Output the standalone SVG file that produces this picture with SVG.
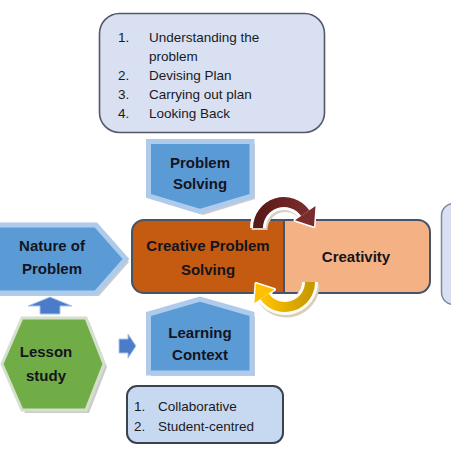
<svg xmlns="http://www.w3.org/2000/svg" width="451" height="451" viewBox="0 0 451 451">
<defs>
<style>
.t{font-family:"Liberation Sans",Arial,sans-serif;font-size:13.5px;fill:#1a1a22}
.b{font-family:"Liberation Sans",Arial,sans-serif;font-size:15px;font-weight:bold;fill:#14141e;text-anchor:middle}
.note{fill:#d8e0f1;stroke:#55586a;stroke-width:1.6}
.penta{fill:#5b9bd5;stroke:#aecbeb;stroke-width:5;stroke-linejoin:miter}
.shadow{fill:#cccccc}
.blue{fill:#4a7cc9;stroke:#a9c4e8;stroke-width:1}
.main{stroke:#44546a;stroke-width:2}
</style>
<linearGradient id="gold" x1="0" y1="0" x2="1" y2="0">
<stop offset="0" stop-color="#ffc000"/><stop offset="1" stop-color="#c99a00"/>
</linearGradient>
<linearGradient id="brown" x1="0" y1="0" x2="1" y2="0">
<stop offset="0" stop-color="#5a1818"/><stop offset="1" stop-color="#7a2c2c"/>
</linearGradient>
</defs>
<rect width="451" height="451" fill="#ffffff"/>

<g id="steps">
<rect class="note" x="99.5" y="13.5" width="225" height="119" rx="20"/>
<text class="t" x="118" y="42">1.</text><text class="t" x="149" y="42">Understanding the</text>
<text class="t" x="149" y="61">problem</text>
<text class="t" x="118" y="80">2.</text><text class="t" x="149" y="80">Devising Plan</text>
<text class="t" x="118" y="99">3.</text><text class="t" x="149" y="99">Carrying out plan</text>
<text class="t" x="118" y="118">4.</text><text class="t" x="149" y="118">Looking Back</text>
</g>

<g id="problem-solving">
<polygon class="shadow" points="151,144 255,144 255,199 203,215 151,199"/>
<polygon class="penta" points="148.5,141.5 252,141.5 252,196 200,211.5 148.5,196"/>
<text class="b" x="200" y="168">Problem</text>
<text class="b" x="200" y="189">Solving</text>
</g>

<g id="nature-of-problem">
<polygon class="shadow" points="-5,228 99,228 129,262 99,296 -5,296"/>
<polygon class="penta" points="-5,225 96,225 126,259 96,293 -5,293"/>
<text class="b" x="52" y="251">Nature of</text>
<text class="b" x="52" y="274">Problem</text>
</g>

<g id="creative-problem-solving">
<path class="main" fill="#c55a11" d="M144 220 H284 V293 H144 A12 12 0 0 1 132 281 V232 A12 12 0 0 1 144 220 Z"/>
<text class="b" x="208" y="251">Creative Problem</text>
<text class="b" x="208" y="275">Solving</text>
</g>

<g id="creativity">
<path class="main" fill="#f4b183" d="M284 220 H418 A12 12 0 0 1 430 232 V281 A12 12 0 0 1 418 293 H284 Z"/>
<text class="b" x="356" y="262">Creativity</text>
</g>

<g id="right-box">
<rect x="441.5" y="203.5" width="30" height="101" rx="12" fill="#d8e0f1" stroke="#7c88a0" stroke-width="1.5"/>
</g>

<g id="learning-context">
<polygon class="shadow" points="151,317 203,302 255,317 255,376 151,376"/>
<polygon class="penta" points="148.5,314 200,299 252,314 252,373 148.5,373"/>
<text class="b" x="200" y="338">Learning</text>
<text class="b" x="200" y="360">Context</text>
</g>

<g id="context-list">
<rect x="127" y="386" width="156" height="57" rx="10" fill="#c6d9f1" stroke="#3a4252" stroke-width="2"/>
<text class="t" x="134" y="411">1.</text><text class="t" x="158" y="411">Collaborative</text>
<text class="t" x="134" y="431">2.</text><text class="t" x="158" y="431">Student-centred</text>
</g>

<g id="lesson-study">
<polygon class="shadow" points="25,321 89,321 107,367 89,413 25,413 5,367"/>
<polygon fill="#70ad47" stroke="#d4dfcc" stroke-width="3" points="22,318 86,318 104,364 86,410 22,410 2,364"/>
<text class="b" x="46" y="357">Lesson</text>
<text class="b" x="46" y="381">study</text>
</g>

<g id="connectors">
<polygon class="blue" points="50,297 72,306 60,306 60,314 40,314 40,306 28,306"/>
<polygon class="blue" points="119,339 128,339 128,334 136,346 128,358 128,353 119,353"/>
<path d="M258 228 A26 26 0 0 1 305.3 213.1" fill="none" stroke="#d8cfc0" stroke-width="16" transform="translate(1.5,2)"/>
<path d="M258 228 A26 26 0 0 1 305.3 213.1" fill="none" stroke="#ffffff" stroke-width="16"/>
<polygon points="315.5,206 295,220.3 314,226.5" fill="#7a2c2c" stroke="#ffffff" stroke-width="3" stroke-linejoin="round"/>
<path d="M258 228 A26 26 0 0 1 305.3 213.1" fill="none" stroke="url(#brown)" stroke-width="10"/>
<polygon points="315.5,206 295,220.3 314,226.5" fill="#7a2c2c"/>
<path d="M310 282 A25 25 0 0 1 264.5 296.3" fill="none" stroke="#d8cfb8" stroke-width="16" transform="translate(1.5,2.5)"/>
<path d="M310 282 A25 25 0 0 1 264.5 296.3" fill="none" stroke="#fffdf5" stroke-width="16"/>
<polygon points="274.5,289.5 254.5,303 256,283.5" fill="#ffc000" stroke="#fffdf5" stroke-width="3" stroke-linejoin="round"/>
<path d="M310 282 A25 25 0 0 1 264.5 296.3" fill="none" stroke="url(#gold)" stroke-width="10"/>
<polygon points="274.5,289.5 254.5,303 256,283.5" fill="#ffc000"/>
</g>
</svg>
